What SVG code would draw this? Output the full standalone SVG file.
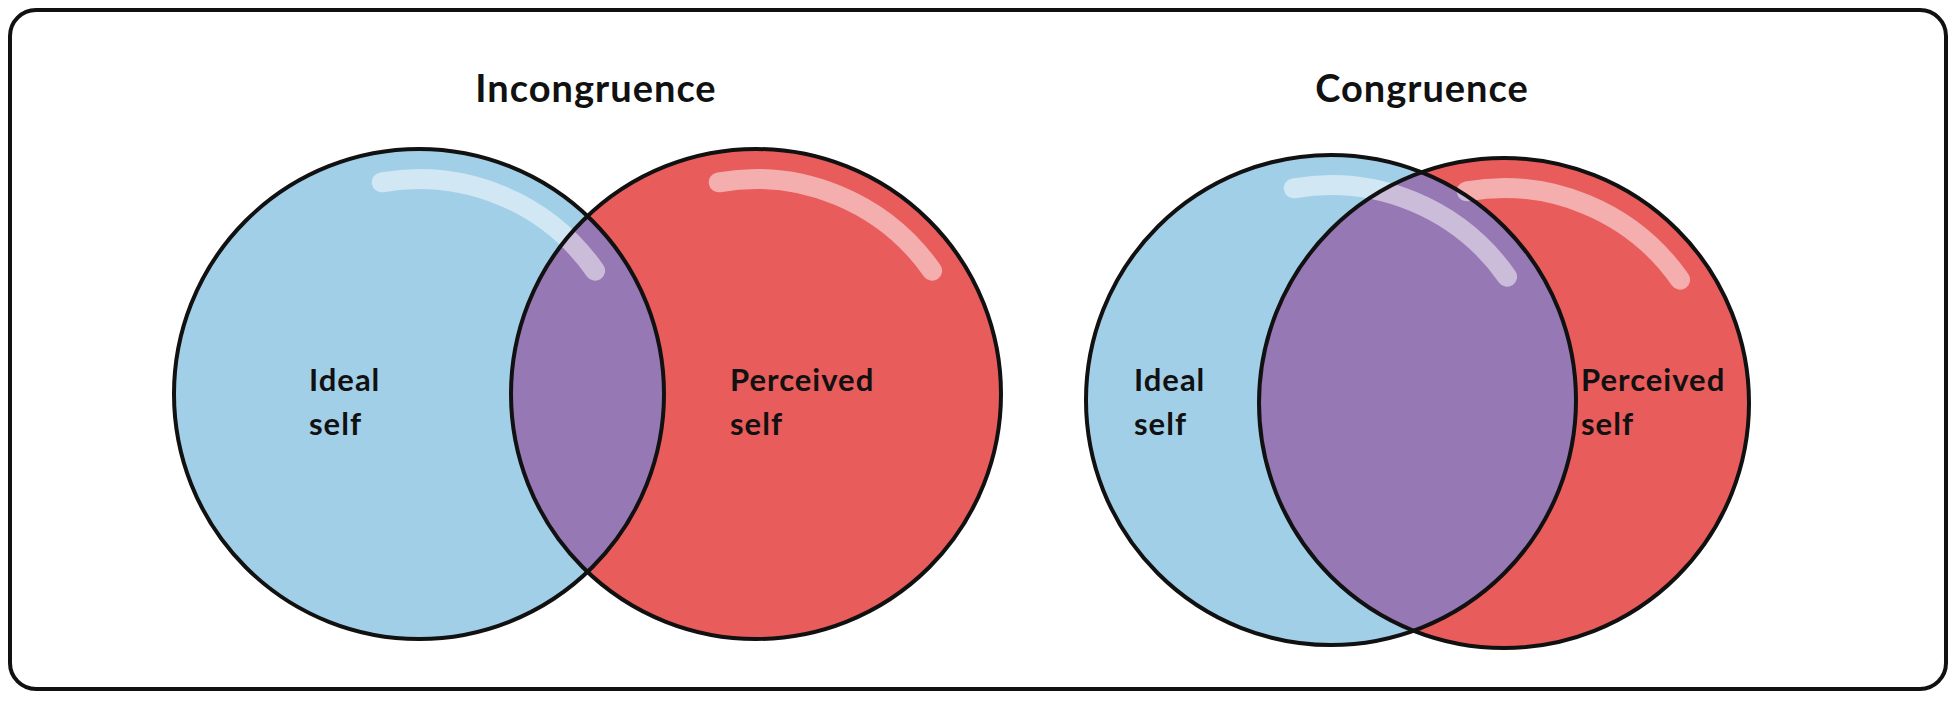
<svg xmlns="http://www.w3.org/2000/svg" width="1956" height="701" viewBox="0 0 1956 701">
<style>
.t{font-family:Lato,"Liberation Sans",sans-serif;font-weight:bold;fill:#111;letter-spacing:1px}
.ttl{font-size:38px}
.lbl{font-size:31px}
.c{stroke:#111;stroke-width:4;fill:none}
.hl{fill:none;stroke:#fff;stroke-width:20;stroke-linecap:round;opacity:0.5}
</style>
<defs>
<clipPath id="lb"><circle cx="419" cy="394" r="245"/></clipPath>
<clipPath id="rb"><circle cx="1331" cy="400" r="245"/></clipPath>
</defs>
<rect x="10" y="10" width="1936" height="679" rx="26" fill="#fff" stroke="#111" stroke-width="4"/>
<g id="incongruence">
<text class="t ttl" x="596" y="102" text-anchor="middle">Incongruence</text>
<g id="ideal-left">
<circle cx="419" cy="394" r="245" fill="#A2CFE8"/>
</g>
<g id="perceived-left">
<circle cx="756" cy="394" r="245" fill="#E85C5C"/>
<circle cx="756" cy="394" r="245" fill="#9678B4" clip-path="url(#lb)"/>
</g>
<path class="hl" d="M381.7,182.3 A215,215 0 0 1 595.1,270.7"/>
<path class="hl" d="M718.7,182.3 A215,215 0 0 1 932.1,270.7"/>
<circle class="c" cx="419" cy="394" r="245"/>
<circle class="c" cx="756" cy="394" r="245"/>
<text class="t lbl" x="309" y="391">Ideal</text>
<text class="t lbl" x="309" y="435">self</text>
<text class="t lbl" x="730" y="391">Perceived</text>
<text class="t lbl" x="730" y="435">self</text>
</g>
<g id="congruence">
<text class="t ttl" x="1422" y="102" text-anchor="middle">Congruence</text>
<g id="ideal-right">
<circle cx="1331" cy="400" r="245" fill="#A2CFE8"/>
</g>
<g id="perceived-right">
<circle cx="1504" cy="403" r="245" fill="#E85C5C"/>
<circle cx="1504" cy="403" r="245" fill="#9678B4" clip-path="url(#rb)"/>
</g>
<path class="hl" d="M1293.7,188.3 A215,215 0 0 1 1507.1,276.7"/>
<path class="hl" d="M1466.7,191.3 A215,215 0 0 1 1680.1,279.7"/>
<circle class="c" cx="1331" cy="400" r="245"/>
<circle class="c" cx="1504" cy="403" r="245"/>
<text class="t lbl" x="1134" y="391">Ideal</text>
<text class="t lbl" x="1134" y="435">self</text>
<text class="t lbl" x="1581" y="391">Perceived</text>
<text class="t lbl" x="1581" y="435">self</text>
</g>
<g id="connectors"/>
</svg>
